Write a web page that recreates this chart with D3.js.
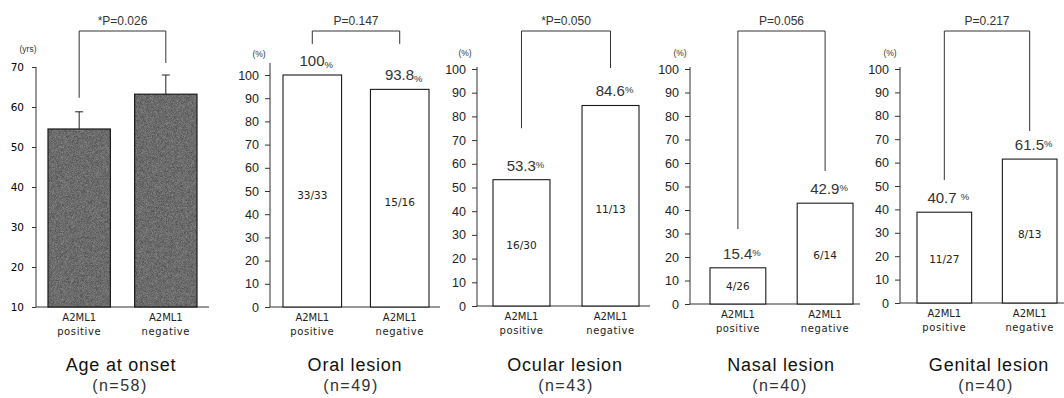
<!DOCTYPE html>
<html><head><meta charset="utf-8">
<script src="https://cdn.jsdelivr.net/npm/d3@7"></script>
<style>
body{margin:0;background:#fff;}
svg{display:block;}
</style></head>
<body>
<svg id="chart" width="1064" height="398"></svg>
<script>
// ---------- data ----------
const catLine1 = ["A2ML1", "A2ML1"];
const catLine2 = ["positive", "negative"];
const panelTitles = ["Age at onset", "Oral lesion", "Ocular lesion", "Nasal lesion", "Genital lesion"];
const panelN = ["(n=58)", "(n=49)", "(n=43)", "(n=40)", "(n=40)"];
const pTexts = ["*P=0.026", "P=0.147", "*P=0.050", "P=0.056", "P=0.217"];

const ageMean = [54.5, 63.2];
const ageSD = [4.3, 4.8];
const ageTicks = [10, 20, 30, 40, 50, 60, 70];

const oralPct = [100, 93.8];
const ocularPct = [53.3, 84.6];
const nasalPct = [15.4, 42.9];
const genitalPct = [38.8, 61.5];
const pctTicks = [0, 10, 20, 30, 40, 50, 60, 70, 80, 90, 100];

const oralLabel = ["100", "93.8"];
const ocularLabel = ["53.3", "84.6"];
const nasalLabel = ["15.4", "42.9"];
const genitalLabel = ["40.7 ", "61.5"];

const oralFrac = ["33/33", "15/16"];
const ocularFrac = ["16/30", "11/13"];
const nasalFrac = ["4/26", "6/14"];
const genitalFrac = ["11/27", "8/13"];

// bracket leg bottoms, in each panel's axis units
const bracketLegs = [[62.3, 71], [113.4, 113.4], [75, 100.4], [31.9, 56.6], [52.6, 73.5]];

// ---------- layout ----------
const layout = [
  {axisX: 36,  xEnd: 209,  bars: [48, 197],  pad: 0.28, yDom: [10, 70], yRange: [307, 67], axisTop: 67, unit: "(yrs)", unitX: 28, unitY: 52},
  {axisX: 270, xEnd: 440,  bars: [283, 429], pad: 0.33, yDom: [0, 100], yRange: [307, 75], axisTop: 63, unit: "(%)", unitX: 259, unitY: 57},
  {axisX: 477, xEnd: 650,  bars: [493, 639], pad: 0.36, yDom: [0, 100], yRange: [306, 69], axisTop: 67, unit: "(%)", unitX: 465, unitY: 56},
  {axisX: 690, xEnd: 860,  bars: [710, 853], pad: 0.36, yDom: [0, 100], yRange: [304, 69], axisTop: 67, unit: "(%)", unitX: 680, unitY: 56},
  {axisX: 900, xEnd: 1064, bars: [917, 1057], pad: 0.36, yDom: [0, 100], yRange: [303, 69], axisTop: 67, unit: "(%)", unitX: 890, unitY: 56}
];
const titleX = [121, 355, 565, 781, 989];
const nX = [120, 351, 566, 780, 986];
const bracketTop = 31;

const pctSeries = [null, oralPct, ocularPct, nasalPct, genitalPct];
const pctLabels = [null, oralLabel, ocularLabel, nasalLabel, genitalLabel];
const fracs = [null, oralFrac, ocularFrac, nasalFrac, genitalFrac];

const svg = d3.select("#chart");
const SANS = "'Liberation Sans', Arial, sans-serif";
const DEJA = "'DejaVu Sans', Verdana, sans-serif";

// grainy grey fill for the age bars
const defs = svg.append("defs");
const f = defs.append("filter").attr("id", "noise").attr("x", 0).attr("y", 0).attr("width", 1).attr("height", 1)
  .attr("color-interpolation-filters", "sRGB");
f.append("feTurbulence").attr("type", "fractalNoise").attr("baseFrequency", 1.8).attr("numOctaves", 1).attr("seed", 5).attr("result", "t");
f.append("feColorMatrix").attr("in", "t").attr("type", "matrix")
  .attr("values", "0.4 0 0 0 0.22  0.4 0 0 0 0.22  0.4 0 0 0 0.22  0 0 0 0 1").attr("result", "grain");
f.append("feComposite").attr("in", "grain").attr("in2", "SourceGraphic").attr("operator", "in");

layout.forEach((L, i) => {
  const g = svg.append("g");
  const y = d3.scaleLinear().domain(L.yDom).range(L.yRange);
  const x = d3.scaleBand().domain([0, 1]).range(L.bars).paddingInner(L.pad).paddingOuter(0);
  const ticks = i === 0 ? ageTicks : pctTicks;

  // y axis
  const ax = g.append("g").attr("transform", `translate(${L.axisX},0)`)
    .call(d3.axisLeft(y).tickValues(ticks).tickSize(i === 0 ? 4 : 5).tickPadding(i === 0 ? 8 : 6).tickSizeOuter(0));
  ax.select(".domain").remove();
  ax.selectAll(".tick line").attr("stroke", "#333");
  ax.selectAll(".tick text")
    .attr("font-family", i === 0 ? DEJA : SANS)
    .attr("font-size", i === 0 ? 10.5 : 12.5)
    .attr("fill", i === 0 ? "#000" : "#222");
  g.append("line").attr("x1", L.axisX).attr("x2", L.axisX)
    .attr("y1", L.axisTop).attr("y2", y(L.yDom[0])).attr("stroke", "#333");
  // baseline
  g.append("line").attr("x1", L.axisX).attr("x2", L.xEnd)
    .attr("y1", y(L.yDom[0])).attr("y2", y(L.yDom[0])).attr("stroke", "#333");
  // unit label
  g.append("text").attr("x", L.unitX).attr("y", L.unitY).attr("text-anchor", "middle")
    .attr("font-family", SANS).attr("font-size", 8.5).attr("fill", "#333").text(L.unit);

  const cx = k => x(k) + x.bandwidth() / 2;

  if (i === 0) {
    [0, 1].forEach(k => {
      g.append("rect").attr("x", x(k)).attr("y", y(ageMean[k]))
        .attr("width", x.bandwidth()).attr("height", y(10) - y(ageMean[k]))
        .attr("fill", "#666").attr("filter", "url(#noise)");
      g.append("rect").attr("x", x(k)).attr("y", y(ageMean[k]))
        .attr("width", x.bandwidth()).attr("height", y(10) - y(ageMean[k]))
        .attr("fill", "none").attr("stroke", "#1a1a1a").attr("stroke-width", 1.2);
      const top = y(ageMean[k] + ageSD[k]);
      g.append("line").attr("x1", cx(k)).attr("x2", cx(k)).attr("y1", y(ageMean[k])).attr("y2", top).attr("stroke", "#222");
      g.append("line").attr("x1", cx(k) - 4).attr("x2", cx(k) + 4).attr("y1", top).attr("y2", top).attr("stroke", "#222");
    });
  } else {
    const vals = pctSeries[i];
    [0, 1].forEach(k => {
      g.append("rect").attr("x", x(k)).attr("y", y(vals[k]))
        .attr("width", x.bandwidth()).attr("height", y(0) - y(vals[k]))
        .attr("fill", "#fff").attr("stroke", "#1a1a1a").attr("stroke-width", 1.1);
      const t = g.append("text").attr("x", cx(k) + 4).attr("y", y(vals[k]) - 9)
        .attr("text-anchor", "middle").attr("font-family", SANS).attr("font-size", 15).attr("fill", "#333");
      t.append("tspan").text(pctLabels[i][k]);
      t.append("tspan").attr("font-size", 9.5).attr("dy", i === 1 ? 2 : -3).text("%");
      g.append("text").attr("x", cx(k)).attr("y", y(vals[k] * 0.48)).attr("dy", "0.35em")
        .attr("text-anchor", "middle").attr("font-family", DEJA).attr("font-size", 10.5).attr("fill", "#222")
        .text(fracs[i][k]);
    });
  }

  // category labels
  [0, 1].forEach(k => {
    g.append("text").attr("x", cx(k)).attr("y", y(L.yDom[0]) + 14).attr("text-anchor", "middle")
      .attr("font-family", DEJA).attr("font-size", 10).attr("fill", "#222").text(catLine1[k]);
    g.append("text").attr("x", cx(k)).attr("y", y(L.yDom[0]) + 28).attr("text-anchor", "middle")
      .attr("font-family", DEJA).attr("font-size", 10).attr("letter-spacing", 0.6).attr("fill", "#222").text(catLine2[k]);
  });

  // significance bracket
  const legs = bracketLegs[i];
  g.append("path")
    .attr("d", `M${cx(0)},${y(legs[0])}V${bracketTop}H${cx(1)}V${y(legs[1])}`)
    .attr("fill", "none").attr("stroke", "#333").attr("stroke-width", 1);
  g.append("text").attr("x", (cx(0) + cx(1)) / 2).attr("y", bracketTop - 6).attr("text-anchor", "middle")
    .attr("font-family", SANS).attr("font-size", 12).attr("fill", "#333").text(pTexts[i]);

  // titles
  g.append("text").attr("x", titleX[i]).attr("y", 371).attr("text-anchor", "middle")
    .attr("font-family", SANS).attr("font-size", 18).attr("letter-spacing", 0.8).attr("fill", "#111").text(panelTitles[i]);
  g.append("text").attr("x", nX[i]).attr("y", 391).attr("text-anchor", "middle")
    .attr("font-family", SANS).attr("font-size", 16).attr("letter-spacing", 1.5).attr("fill", "#333").text(panelN[i]);
});
</script>
</body></html>
